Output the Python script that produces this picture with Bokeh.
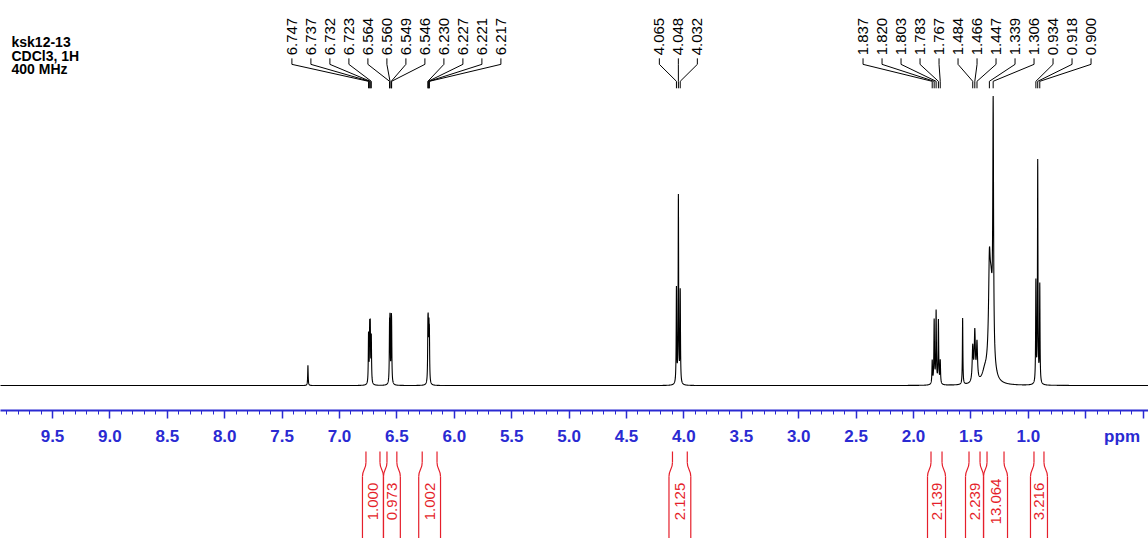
import numpy as np
from bokeh.plotting import figure
from bokeh.models import Range1d, FixedTicker, Label
from bokeh.layouts import column
from bokeh.embed import file_html
from bokeh.resources import INLINE
from bokeh.core.properties import value

# ---------------- data ----------------
# spectrum lines: position (ppm), height (relative, tallest ~100), half-width (ppm)
peak_ppm = [7.275,
            6.747, 6.737, 6.732, 6.723,
            6.564, 6.560, 6.549, 6.546,
            6.230, 6.227, 6.221, 6.217,
            4.065, 4.048, 4.032,
            1.837, 1.820, 1.803, 1.783, 1.767,
            1.572,
            1.484, 1.466, 1.447,
            1.380, 1.339, 1.325, 1.306,
            0.934, 0.918, 0.900]
peak_height = [7.0,
               17, 18, 18, 16,
               17, 19, 17, 15,
               16, 15, 16, 15,
               33, 65, 32,
               8, 22, 25, 22, 8,
               23,
               12, 17, 13,
               3, 26, 31, 84,
               35, 77, 34]
peak_hwhm = [0.0025,
             0.0025, 0.0025, 0.0025, 0.0025,
             0.0025, 0.0025, 0.0025, 0.0025,
             0.0025, 0.0025, 0.0025, 0.0025,
             0.0025, 0.0025, 0.0025,
             0.0030, 0.0030, 0.0030, 0.0030, 0.0030,
             0.0025,
             0.0055, 0.0055, 0.0055,
             0.025, 0.008, 0.018, 0.0040,
             0.0025, 0.0025, 0.0025]

# peak picking labels (groups)
label_groups = [
    ["6.747", "6.737", "6.732", "6.723", "6.564", "6.560", "6.549", "6.546",
     "6.230", "6.227", "6.221", "6.217"],
    ["4.065", "4.048", "4.032"],
    ["1.837", "1.820", "1.803", "1.783", "1.767", "1.484", "1.466", "1.447",
     "1.339", "1.306", "0.934", "0.918", "0.900"],
]

# integrals: left / right limits (ppm) and values
integral_left = [6.80, 6.617, 6.31, 4.13, 1.878, 1.547, 1.390, 0.981]
integral_right = [6.617, 6.47, 6.12, 3.94, 1.721, 1.390, 1.181, 0.833]
integral_value = ["1.000", "0.973", "1.002", "2.125", "2.139", "2.239", "13.064", "3.216"]

tick_values = [9.5, 9.0, 8.5, 8.0, 7.5, 7.0, 6.5, 6.0, 5.5, 5.0, 4.5, 4.0,
               3.5, 3.0, 2.5, 2.0, 1.5, 1.0, 0.5, 0.0]
axis_unit = "ppm"
tick_labels = ["9.5", "9.0", "8.5", "8.0", "7.5", "7.0", "6.5", "6.0", "5.5",
               "5.0", "4.5", "4.0", "3.5", "3.0", "2.5", "2.0", "1.5", "1.0", "",
               axis_unit + "\u2002"]   # unit sits at the right end of the axis

title_lines = ["ksk12-13", "CDCl3, 1H", "400 MHz"]

# ---------------- layout constants ----------------
W, H = 1148, 538
PX_PER_PPM = 114.8
X_LEFT = 9.5 + 52 / PX_PER_PPM
X_RIGHT = X_LEFT - W / PX_PER_PPM
PX_PER_UNIT = 2.89          # vertical pixels per intensity unit
BASE_PAGE_Y = 386.0         # page y of the baseline
AXIS_PAGE_Y = 411.0
AX_BORDER = 37
H1 = int(AXIS_PAGE_Y) + AX_BORDER
H2 = H - H1

def uy(page_y):
    return (BASE_PAGE_Y - page_y) / PX_PER_UNIT

BLUE = "#2a2ad2"
RED = "#e51f2b"
FONT = "Liberation Sans"

# ---------------- spectrum figure ----------------
p = figure(width=W, height=H1,
           x_range=Range1d(X_LEFT, X_RIGHT),
           y_range=Range1d(uy(AXIS_PAGE_Y), uy(0)),
           output_backend="svg", toolbar_location=None,
           min_border_left=0, min_border_right=0, min_border_top=0,
           min_border_bottom=AX_BORDER, outline_line_color=None)
p.grid.visible = False
p.yaxis.visible = False

ax = p.xaxis[0]
ax.ticker = FixedTicker(ticks=tick_values,
                        minor_ticks=list(np.round(np.arange(0.0, 10.0, 0.1), 1)))
ax.major_label_overrides = dict(zip(tick_values, tick_labels))
ax.axis_line_color = BLUE
ax.axis_line_width = 2
ax.major_tick_line_color = BLUE
ax.minor_tick_line_color = BLUE
ax.major_tick_line_width = 1.5
ax.minor_tick_line_width = 1
ax.major_tick_in = 0
ax.major_tick_out = 8
ax.minor_tick_in = 0
ax.minor_tick_out = 4
ax.major_label_standoff = 8
ax.major_label_text_color = BLUE
ax.major_label_text_font = FONT
ax.major_label_text_font_style = "bold"
ax.major_label_text_font_size = "17px"

# spectrum trace
x = np.arange(-0.2, 10.0, 0.0005)
y = np.zeros_like(x)
for c, h, w in zip(peak_ppm, peak_height, peak_hwhm):
    y += h / (1.0 + ((x - c) / w) ** 2)
p.line(x, y, line_color="black", line_width=1.1)

# title text
for i, t in enumerate(title_lines):
    p.add_layout(Label(x=11, x_units="screen", y=uy(42 + 13.5 * i), text=t,
                       text_font=FONT, text_font_style="bold",
                       text_font_size="14px", text_color="black",
                       text_baseline="alphabetic"))

# peak labels with leader lines
spacing = 19.0 / PX_PER_PPM
lx_all, lt_all, xs, ys = [], [], [], []
for grp in label_groups:
    vals = [float(v) for v in grp]
    mean = float(np.mean(vals))
    n = len(vals)
    for i, (t, v) in enumerate(zip(grp, vals)):
        lx = mean + ((n - 1) / 2 - i) * spacing
        lx_all.append(lx)
        lt_all.append(t)
        xs.append([lx, lx, v, v])
        ys.append([uy(58), uy(64), uy(81), uy(88)])
p.text(x=lx_all, y=[uy(55)] * len(lx_all), text=lt_all, angle=np.pi / 2,
       text_align="left", text_baseline="middle", text_font_size="15px",
       text_font=value(FONT), text_color="black")
p.multi_line(xs, ys, line_color="black", line_width=1)

# ---------------- integral figure ----------------
q = figure(width=W, height=H2, x_range=p.x_range, y_range=Range1d(0, H2),
           output_backend="svg", toolbar_location=None,
           min_border_left=0, min_border_right=0, min_border_top=0,
           min_border_bottom=0, outline_line_color=None)
q.grid.visible = False
q.axis.visible = False

def qy(page_y):
    return float(H) - page_y

neck = 3.5 / PX_PER_PPM
lines_x, lines_y = [], []
bx0, by0, bx1, by1, c0x, c0y, c1x, c1y = [], [], [], [], [], [], [], []
for L, R in zip(integral_left, integral_right):
    for edge, inner in ((L, L - neck), (R, R + neck)):
        lines_x.append([edge, edge]); lines_y.append([qy(545), qy(476)])
        lines_x.append([inner, inner]); lines_y.append([qy(462), qy(451)])
        bx0.append(edge); by0.append(qy(476))
        bx1.append(inner); by1.append(qy(462))
        c0x.append(edge); c0y.append(qy(469))
        c1x.append(inner); c1y.append(qy(469))
q.multi_line(lines_x, lines_y, line_color=RED, line_width=1.2)
q.bezier(x0=bx0, y0=by0, x1=bx1, y1=by1, cx0=c0x, cy0=c0y, cx1=c1x, cy1=c1y,
         line_color=RED, line_width=1.2)
mid = [(L + R) / 2 for L, R in zip(integral_left, integral_right)]
q.text(x=mid, y=[qy(501)] * len(mid), text=integral_value, angle=np.pi / 2,
       text_align="center", text_baseline="middle", text_font_size="15px",
       text_font=value(FONT), text_color=RED)

layout = column(p, q, spacing=0)
open("out.html", "w").write(file_html(layout, INLINE))
